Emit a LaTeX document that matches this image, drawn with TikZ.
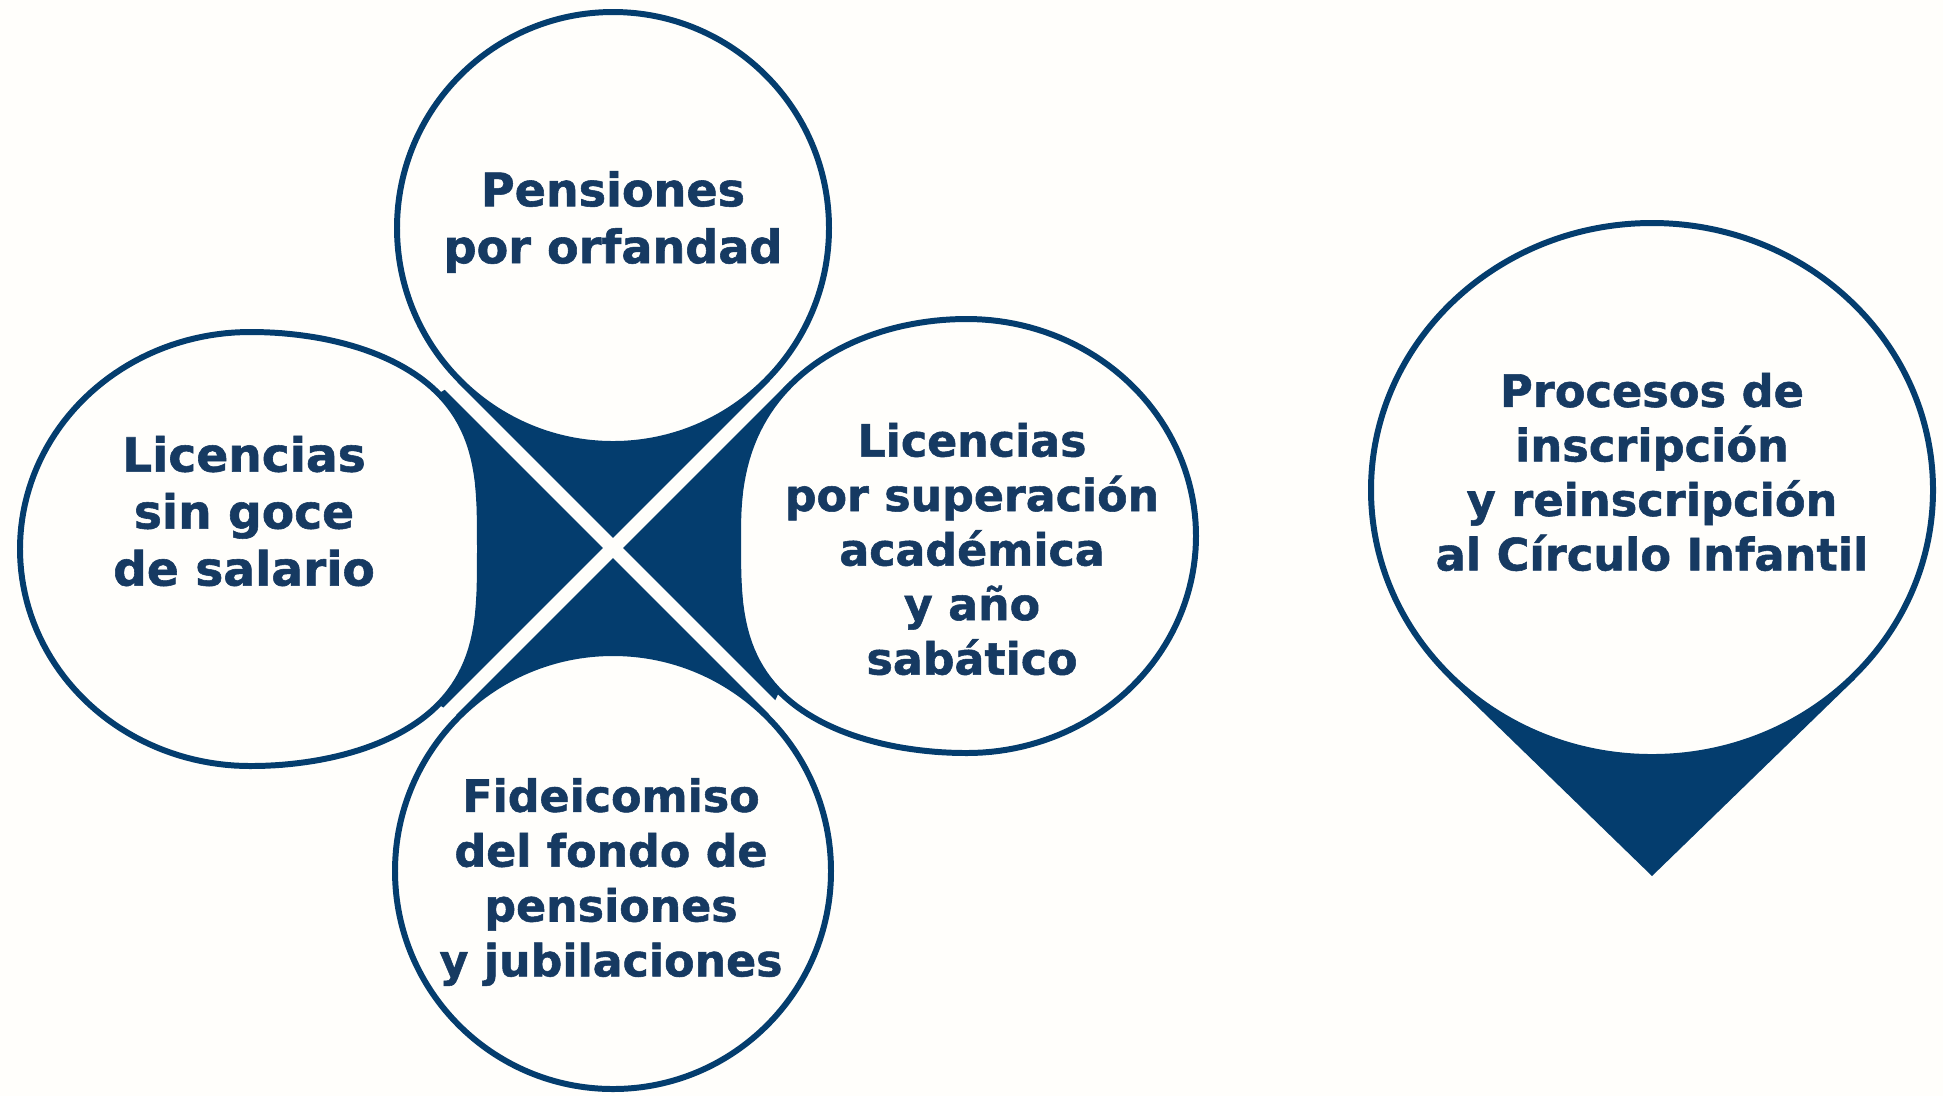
\documentclass[tikz,border=0pt]{standalone}
\usepackage{fontspec}
\setmainfont{DejaVu Sans}[BoldFeatures={FakeBold=1.2}]
\usepackage{xcolor}
\usetikzlibrary{calc}
\definecolor{azul}{RGB}{4,61,110}
\definecolor{azultexto}{RGB}{22,58,98}
\definecolor{fondo}{RGB}{255,254,251}

\begin{document}
\begin{tikzpicture}[x=0.01cm, y=-0.01cm,
    borde/.style={draw=azul, line width=1.7pt, fill=fondo},
    franja/.style={draw=fondo, line width=4pt},
    texto/.style n args={2}{text=azultexto, align=center, inner sep=0pt,
        font=\bfseries\fontsize{#1}{#2}\selectfont}]
    % fondo y marco
    \fill[fondo] (0,0) rectangle (1943,1096);
    \useasboundingbox (0,0) rectangle (1943,1096);
    \coordinate (centro) at (613,548);
    % estrella oscura del centro
    \fill[azul] (613,228) -- (765.7,380.7) -- (791.6,383.6) -- (967,536) -- (779.4,691.5)
        -- (767.1,716.9) -- (613,871) -- (458.9,716.9) -- (438.4,704.5) -- (250,549)
        -- (438.4,393.5) -- (460.3,380.7) -- cycle;
    % la X blanca
    \draw[franja] ($(centro)+(-200,-200)$) -- ($(centro)+(200,200)$);
    \draw[franja] ($(centro)+(200,-200)$) -- ($(centro)+(-200,200)$);
    % circulos de arriba y de abajo
    \draw[borde] (613,228) circle (216);
    \draw[borde] (613,871) circle (218);
    % los de los lados, algo llenos hacia la X
    \draw[borde] plot[domain=-90:90, samples=91]
            ({250+230*cos(\x)}, {549+217*sign(sin(\x))*pow(abs(sin(\x))+0.00001,0.6)})
        -- plot[domain=90:270, samples=91] ({250+230*cos(\x)}, {549+217*sin(\x)}) -- cycle;
    \draw[borde] plot[domain=-90:90, samples=91] ({967+229*cos(\x)}, {536+217*sin(\x)})
        -- plot[domain=90:180, samples=46] ({967+229*cos(\x)}, {536+217*pow(abs(sin(\x))+0.00001,0.6)})
        -- plot[domain=180:270, samples=46] ({967+229*cos(\x)}, {536-217*pow(abs(sin(\x))+0.00001,0.8)}) -- cycle;
    \node[texto={13.1pt}{16.2pt}] (pensiones) at (613,222) {Pensiones\\por orfandad};
    \node[texto={13.4pt}{16.2pt}] (sinsalario) at (244,511) {Licencias\\sin goce\\de salario};
    \node[texto={12.6pt}{15.5pt}] (superacion) at (972,549) {Licencias\\por superación\\académica\\y año\\sabático};
    \node[texto={12.6pt}{15.6pt}] (fideicomiso) at (611,882) {Fideicomiso\\del fondo de\\pensiones\\y jubilaciones};
    % marcador (pin) de la derecha
    \coordinate (pin) at (1652,490);
    \coordinate (punta) at (1652,876);
    \fill[azul] (1449,679) -- (punta) -- (1855,679) -- cycle;
    \draw[borde] (pin) ellipse (281 and 267);
    \node[texto={12.7pt}{15.5pt}] (circulo) at (1652,472) {Procesos de\\inscripción\\y reinscripción\\al Círculo Infantil};
\end{tikzpicture}
\end{document}
